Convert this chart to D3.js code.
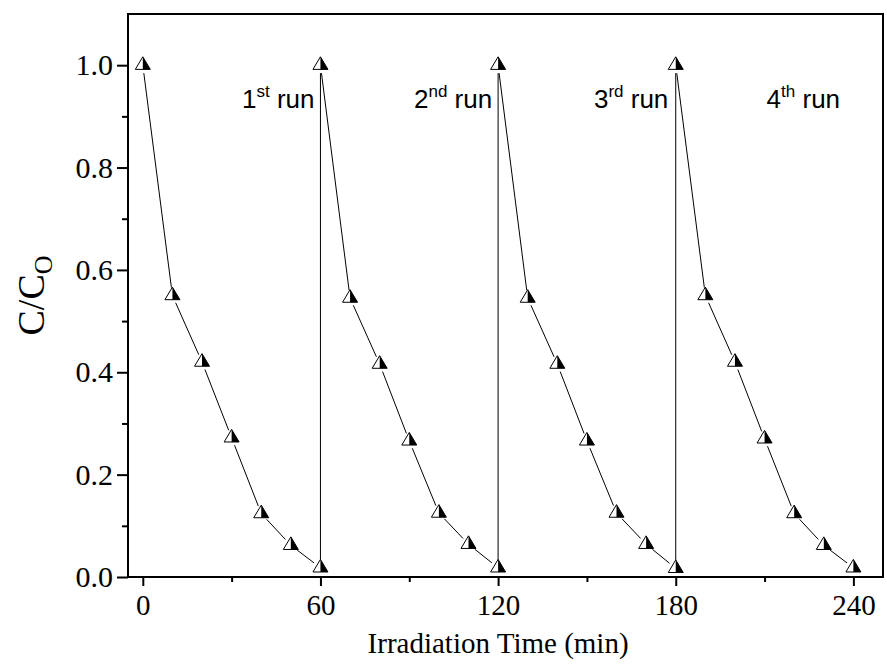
<!DOCTYPE html>
<html>
<head>
<meta charset="utf-8">
<script src="https://cdn.jsdelivr.net/npm/d3@7"></script>
<style>
  body { margin: 0; background: #fff; }
  svg { display: block; }
</style>
</head>
<body>
<svg id="chart" width="887" height="668"></svg>
<script>
// irradiation time (min) and C/C0 for the 4 cycles, one continuous series
var times  = [0, 10, 20, 30, 40, 50, 60,
              60, 70, 80, 90, 100, 110, 120,
              120, 130, 140, 150, 160, 170, 180,
              180, 190, 200, 210, 220, 230, 240];
var ratios = [1.0, 0.55, 0.42, 0.272, 0.124, 0.062, 0.018,
              1.0, 0.545, 0.416, 0.266, 0.125, 0.064, 0.018,
              1.0, 0.545, 0.416, 0.266, 0.125, 0.064, 0.017,
              1.0, 0.55, 0.42, 0.27, 0.124, 0.062, 0.018];

var xTicks = [0, 60, 120, 180, 240];
var xMinor = [30, 90, 150, 210];
var yTicks = [0, 0.2, 0.4, 0.6, 0.8, 1.0];
var yMinor = [0.1, 0.3, 0.5, 0.7, 0.9];

var runNames = ["1", "2", "3", "4"];
var runSups  = ["st", "nd", "rd", "th"];
var runEnd   = [58, 118, 177.5, 235.5]; // text end, in minutes

var svg = d3.select("#chart"),
    margin = {top: 14, right: 4, bottom: 91, left: 128},
    width = 887 - margin.left - margin.right,
    height = 668 - margin.top - margin.bottom;

var g = svg.append("g").attr("transform", "translate(" + margin.left + "," + margin.top + ")");

var x = d3.scaleLinear().domain([-5, 250]).range([0, width]);
var y = d3.scaleLinear().domain([0, 1.1]).range([height, 0]);

var data = [];
for (var i = 0; i < times.length; i++) {
  data.push({t: times[i], v: ratios[i]});
}

// frame
g.append("rect")
  .attr("x", 0).attr("y", 0)
  .attr("width", width).attr("height", height)
  .attr("fill", "none")
  .attr("stroke", "#000")
  .attr("stroke-width", 2);

var serif = "'Liberation Serif', 'Times New Roman', serif";

// x axis
var xAxis = g.append("g")
  .attr("transform", "translate(0," + height + ")")
  .call(d3.axisBottom(x).tickValues(xTicks).tickSize(9).tickPadding(8).tickFormat(d3.format("d")));
xAxis.select(".domain").remove();
xAxis.selectAll(".tick line").attr("stroke-width", 2);
xAxis.selectAll("text").attr("font-family", serif).attr("font-size", 29).attr("fill", "#000");

var xAxisMinor = g.append("g")
  .attr("transform", "translate(0," + height + ")")
  .call(d3.axisBottom(x).tickValues(xMinor).tickSize(5).tickFormat(""));
xAxisMinor.select(".domain").remove();
xAxisMinor.selectAll(".tick line").attr("stroke-width", 2);

// y axis
var yAxis = g.append("g")
  .call(d3.axisLeft(y).tickValues(yTicks).tickSize(11).tickPadding(4).tickFormat(d3.format(".1f")));
yAxis.select(".domain").remove();
yAxis.selectAll(".tick line").attr("stroke-width", 2);
yAxis.selectAll("text").attr("font-family", serif).attr("font-size", 30).attr("fill", "#000");

var yAxisMinor = g.append("g")
  .call(d3.axisLeft(y).tickValues(yMinor).tickSize(6).tickFormat(""));
yAxisMinor.select(".domain").remove();
yAxisMinor.selectAll(".tick line").attr("stroke-width", 2);

// axis titles
svg.append("text")
  .attr("x", margin.left + x(120))
  .attr("y", 653)
  .attr("text-anchor", "middle")
  .attr("font-family", serif)
  .attr("font-size", 29)
  .text("Irradiation Time (min)");

var yTitle = svg.append("text")
  .attr("transform", "translate(44," + (margin.top + height / 2) + ") rotate(-90)")
  .attr("text-anchor", "middle")
  .attr("font-family", serif)
  .attr("font-size", 38);
yTitle.append("tspan").text("C/C");
yTitle.append("tspan").attr("font-size", 26).attr("dy", 8).text("O");

// connecting segments, stopped short of the markers
var gap = 8;
var segs = g.append("g");
for (var i = 0; i < data.length - 1; i++) {
  var x1 = x(data[i].t), y1 = y(data[i].v),
      x2 = x(data[i + 1].t), y2 = y(data[i + 1].v);
  var len = Math.sqrt((x2 - x1) * (x2 - x1) + (y2 - y1) * (y2 - y1));
  if (len < 2 * gap) continue;
  var ux = (x2 - x1) / len, uy = (y2 - y1) / len;
  segs.append("line")
    .attr("x1", x1 + ux * gap).attr("y1", y1 + uy * gap)
    .attr("x2", x2 - ux * gap).attr("y2", y2 - uy * gap)
    .attr("stroke", "#000")
    .attr("stroke-width", 1);
}

// half filled triangle markers
var mk = g.selectAll(".mk")
  .data(data)
  .enter()
  .append("g")
  .attr("class", "mk")
  .attr("transform", function(d) { return "translate(" + x(d.t) + "," + y(d.v) + ")"; });

mk.append("path")
  .attr("d", "M0,-8.4L7.5,4.2L-7.5,4.2Z")
  .attr("fill", "#fff");
mk.append("path")
  .attr("d", "M0,-8.4L7.5,4.2L0,4.2Z")
  .attr("fill", "#000");
mk.append("path")
  .attr("d", "M0,-8.4L7.5,4.2L-7.5,4.2Z")
  .attr("fill", "none")
  .attr("stroke", "#000")
  .attr("stroke-width", 1)
  .attr("stroke-linejoin", "miter");

// run labels
var sans = "'Liberation Sans', Arial, sans-serif";
for (var i = 0; i < runNames.length; i++) {
  var t = g.append("text")
    .attr("x", x(runEnd[i]))
    .attr("y", 94)
    .attr("text-anchor", "end")
    .attr("font-family", sans)
    .attr("font-size", 26);
  t.append("tspan").text(runNames[i]);
  t.append("tspan").attr("font-size", 17).attr("dy", -11).text(runSups[i]);
  t.append("tspan").attr("dy", 11).text(" run");
}
</script>
</body>
</html>
